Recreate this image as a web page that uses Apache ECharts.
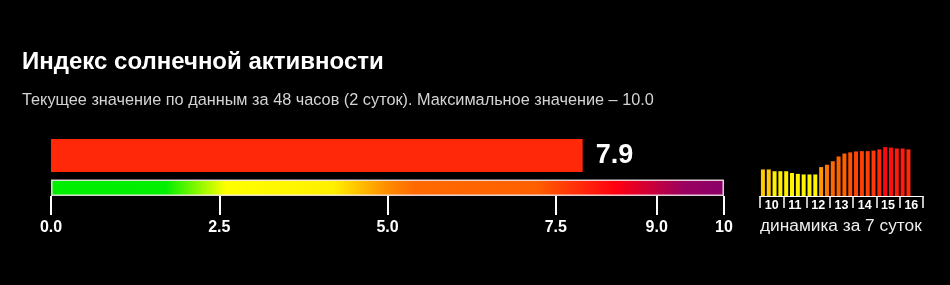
<!DOCTYPE html>
<html>
<head>
<meta charset="utf-8">
<script src="https://cdn.jsdelivr.net/npm/echarts@6/dist/echarts.min.js"></script>
<style>
  html, body { margin: 0; padding: 0; background: #000; }
  #chart { width: 950px; height: 285px; }
</style>
</head>
<body>
<div id="chart"></div>
<script>
// ---- data ----
const titleText = 'Индекс солнечной активности';
const subtitleText = 'Текущее значение по данным за 48 часов (2 суток). Максимальное значение – 10.0';
const currentValue = [7.9];
const scaleMin = 0;
const scaleMax = 10;
const tickValues = [0, 2.5, 5, 7.5, 9, 10];
const tickLabels = ['0.0', '2.5', '5.0', '7.5', '9.0', '10'];
const days = ['10', '11', '12', '13', '14', '15', '16'];
const hours = ['00', '06', '12', '18'];
const history = [4.5, 4.5, 4.2, 4.2, 4.2, 3.9, 3.75, 3.65, 3.65, 3.65,
                 4.9, 5.3, 5.9, 6.7, 7.2, 7.4, 7.55, 7.6, 7.6, 7.7,
                 7.9, 8.3, 8.2, 8.05, 8.05, 7.9];
const historyCaption = 'динамика за 7 суток';

// ---- colour scale (style) ----
const gradStops = [
  [0, '#00ee00'], [1.7, '#00f000'], [2.6, '#ffff00'], [4.2, '#fff000'],
  [5.0, '#ff8c00'], [5.4, '#ff6a00'], [7.2, '#ff6000'], [8.4, '#ff0010'],
  [9.4, '#9a0060'], [10, '#8a0068']
];
function hex2rgb(h) { return [1, 3, 5].map(i => parseInt(h.substr(i, 2), 16)); }
function colorAt(v) {
  for (let i = 1; i < gradStops.length; i++) {
    if (v <= gradStops[i][0]) {
      const [v0, c0] = gradStops[i - 1], [v1, c1] = gradStops[i];
      const t = (v - v0) / (v1 - v0);
      const a = hex2rgb(c0), b = hex2rgb(c1);
      return 'rgb(' + a.map((x, k) => Math.round(x + (b[k] - x) * t)).join(',') + ')';
    }
  }
  return gradStops[gradStops.length - 1][1];
}

const slots = [];
days.forEach(d => hours.forEach(h => slots.push(d + ' ' + h + ':00')));
const historyData = slots.map((s, i) => i < history.length ? history[i] : '-');

const font = '"Liberation Sans", Arial, sans-serif';
const chart = echarts.init(document.getElementById('chart'), null, { renderer: 'canvas' });

chart.setOption({
  backgroundColor: '#000',
  animation: false,
  title: [
    { text: titleText, left: 22, top: 50, padding: 0,
      textStyle: { color: '#fff', fontSize: 24, fontWeight: 'bold', fontFamily: font } },
    { text: subtitleText, left: 22, top: 93, padding: 0,
      textStyle: { color: '#d4d4d4', fontSize: 16.3, fontWeight: 'normal', fontFamily: font } },
    { text: historyCaption, left: 760, top: 218, padding: 0,
      textStyle: { color: '#eee', fontSize: 17.3, fontWeight: 'normal', fontFamily: font } }
  ],
  grid: [
    { left: 51, width: 673, top: 139, height: 33 },
    { left: 51, width: 673, top: 179.5, height: 16.5 },
    { left: 760, width: 163, top: 137, height: 59 }
  ],
  xAxis: [
    { type: 'value', gridIndex: 0, min: scaleMin, max: scaleMax, show: false },
    { type: 'value', gridIndex: 1, min: scaleMin, max: scaleMax,
      axisLine: { show: false }, splitLine: { show: false },
      axisTick: { show: true, customValues: tickValues, length: 19,
                  lineStyle: { color: '#fff', width: 2 } },
      axisLabel: { customValues: tickValues, margin: 24, color: '#fff',
                   fontSize: 16, fontWeight: 'bold', fontFamily: font,
                   formatter: v => tickLabels[tickValues.indexOf(v)] } },
    { type: 'category', gridIndex: 2, data: slots, show: false },
    { type: 'category', gridIndex: 2, data: days, position: 'bottom',
      axisLine: { show: true, lineStyle: { color: '#fff', width: 1 } },
      axisTick: { show: true, alignWithLabel: false, length: 12,
                  lineStyle: { color: '#fff', width: 1.5 } },
      axisLabel: { margin: 3, color: '#fff', fontSize: 12.5, fontWeight: 'bold', fontFamily: font } }
  ],
  yAxis: [
    { type: 'category', gridIndex: 0, data: ['now'], show: false },
    { type: 'category', gridIndex: 1, data: ['scale'], show: false },
    { type: 'value', gridIndex: 2, min: scaleMin, max: scaleMax, show: false }
  ],
  series: [
    { type: 'bar', xAxisIndex: 0, yAxisIndex: 0, data: currentValue, barWidth: 33,
      itemStyle: { color: p => colorAt(p.value) },
      label: { show: true, position: 'right', distance: 13, color: '#fff',
               fontSize: 27, fontWeight: 'bold', fontFamily: font,
               formatter: p => p.value.toFixed(1) } },
    { type: 'bar', xAxisIndex: 1, yAxisIndex: 1, data: [scaleMax], barWidth: 16.5,
      itemStyle: {
        color: new echarts.graphic.LinearGradient(0, 0, 1, 0,
          gradStops.map(s => ({ offset: (s[0] - scaleMin) / (scaleMax - scaleMin), color: s[1] }))),
        borderColor: 'rgba(255,240,245,0.85)', borderWidth: 1.5
      } },
    { type: 'bar', xAxisIndex: 2, yAxisIndex: 2, data: historyData, barWidth: 4,
      itemStyle: { color: p => colorAt(p.value) } }
  ]
});
</script>
</body>
</html>
